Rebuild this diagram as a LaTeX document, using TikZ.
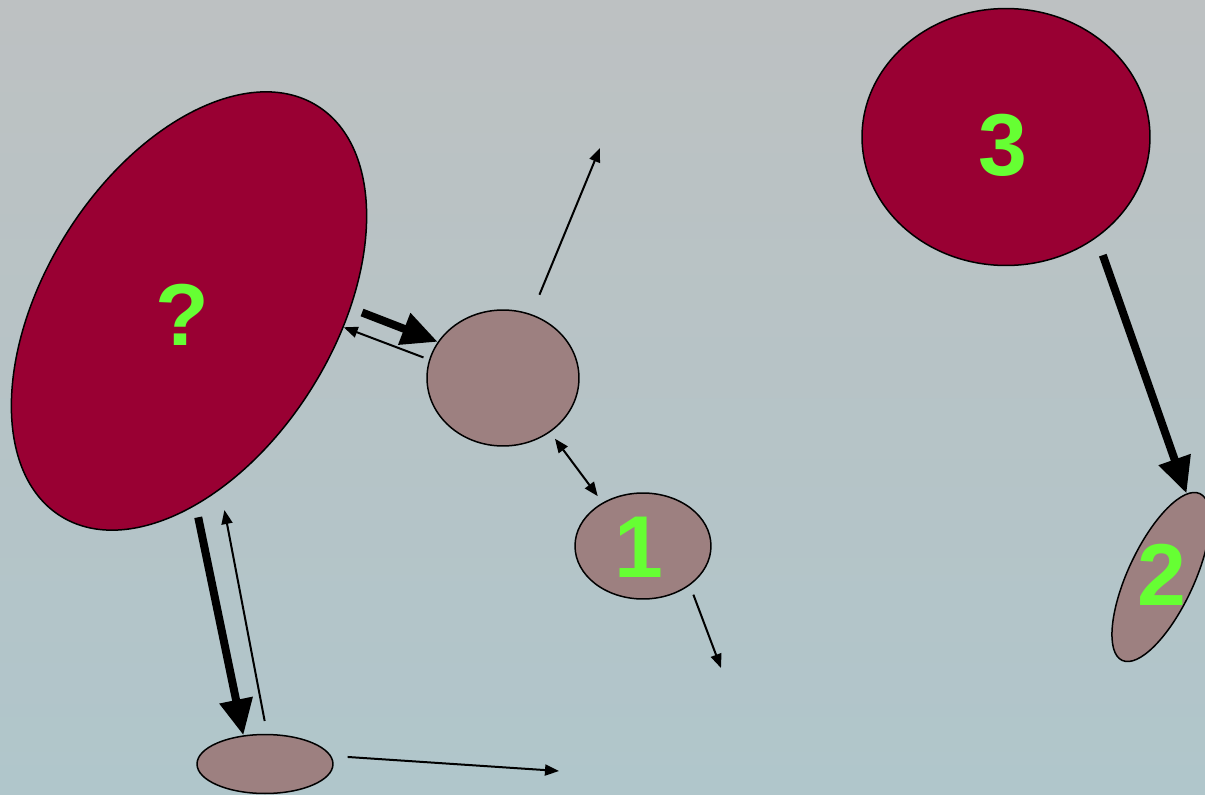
\documentclass[tikz,border=0pt]{standalone}
\usepackage{fontspec}
\newfontfamily\labelfont{Liberation Sans}
\usetikzlibrary{arrows.meta,shapes.geometric}

\definecolor{blobred}{RGB}{153,0,51}
\definecolor{blobgrey}{RGB}{157,128,128}
\definecolor{labgreen}{RGB}{102,255,51}
\definecolor{bgtop}{RGB}{189,193,194}
\definecolor{bgbot}{RGB}{176,198,203}

\begin{document}
\begin{tikzpicture}[
    x=0.02cm, y=-0.02cm,
    blob/.style={ellipse, draw, line width=0.03cm, inner sep=0pt},
    redblob/.style={blob, fill=blobred},
    greyblob/.style={blob, fill=blobgrey},
    numlabel/.style={text=labgreen, inner sep=0pt, font=\labelfont\bfseries\fontsize{50}{50}\selectfont},
    heavy/.style={-{Triangle[length=0.72cm, width=0.64cm]}, line width=0.16cm},
    light/.style={-{Triangle[length=0.28cm, width=0.22cm]}, line width=0.04cm},
    twoway/.style={{Triangle[length=0.28cm, width=0.22cm]}-{Triangle[length=0.28cm, width=0.22cm]}, line width=0.04cm}
  ]

  \useasboundingbox (0,0) rectangle (1205,795);
  \clip (0,0) rectangle (1205,795);
  \shade[top color=bgtop, bottom color=bgbot] (0,0) rectangle (1205,795);

  % Blobs
  \node[redblob, minimum width=9.68cm, minimum height=5.8cm, rotate=58] (q) at (189,311) {};
  \node[greyblob, minimum width=3.04cm, minimum height=2.72cm] (mid) at (503,378) {};
  \node[greyblob, minimum width=2.72cm, minimum height=2.12cm] (one) at (643,546) {};
  \node[greyblob, minimum width=2.72cm, minimum height=1.18cm] (low) at (265,764) {};
  \node[redblob, minimum width=5.76cm, minimum height=5.14cm] (three) at (1006,137) {};
  \node[greyblob, minimum width=3.68cm, minimum height=1.32cm, rotate=65] (two) at (1161,577) {};

  % Labels
  \node[numlabel] at ([shift={(-7,4)}]q.center) {?};
  \node[numlabel] at ([shift={(-4,1)}]one.center) {1};
  \node[numlabel] at ([shift={(1,-2)}]two.center) {2};
  \node[numlabel] at ([shift={(-3,8)}]three.center) {3};

  % Free ends
  \coordinate (upend) at (600,148);
  \coordinate (oneend) at (721,668);
  \coordinate (lowend) at (559,771);

  % Arrows
  \draw[heavy, shorten <=0.24cm] (q.-57) -- (mid.151);
  \draw[light, shorten <=0.12cm] (mid.166) -- (q.-64);
  \draw[light, shorten <=0.42cm] (mid.66) -- (upend);
  \draw[twoway, shorten <=0.16cm, shorten >=0.16cm] (mid.-49) -- (one.133);
  \draw[light, shorten <=0.2cm] (one.-40) -- (oneend);
  \draw[heavy, shorten <=0.24cm] (q.-146) -- (low.127);
  \draw[light, shorten <=0.26cm, shorten >=0.42cm] (low.86) -- (q.-138);
  \draw[light, shorten <=0.33cm] (low.7) -- (lowend);
  \draw[heavy, shorten <=0.37cm] (three.-48) -- (two.8);

\end{tikzpicture}
\end{document}
